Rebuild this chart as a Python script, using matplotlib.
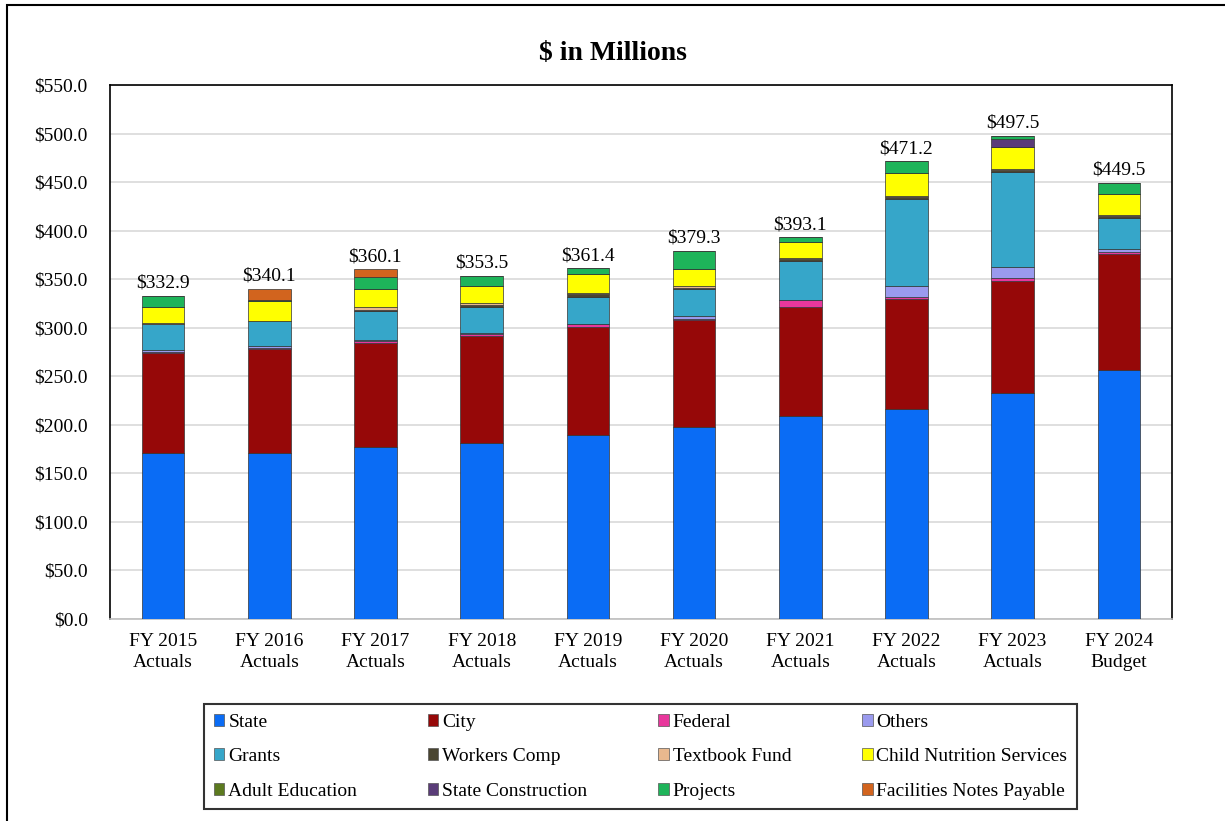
import numpy as np
import matplotlib
matplotlib.use("Agg")
import matplotlib.pyplot as plt
from matplotlib.patches import Rectangle, Patch

plt.rcParams['font.family'] = ['Liberation Serif', 'DejaVu Serif']

# Data ($ in millions)
years = ["FY 2015\nActuals", "FY 2016\nActuals", "FY 2017\nActuals", "FY 2018\nActuals",
         "FY 2019\nActuals", "FY 2020\nActuals", "FY 2021\nActuals", "FY 2022\nActuals",
         "FY 2023\nActuals", "FY 2024\nBudget"]

state = [170.5, 170.5, 177.0, 181.0, 189.5, 197.5, 209.0, 216.0, 232.5, 256.5]
city = [103.5, 107.5, 107.5, 110.5, 111.0, 110.5, 112.5, 113.5, 116.0, 119.5]
federal = [1.0, 1.5, 1.5, 2.5, 3.0, 1.0, 7.0, 2.5, 2.5, 2.5]
others = [2.0, 1.5, 1.5, 0.3, 0.3, 3.0, 0.3, 11.0, 12.0, 3.0]
grants = [26.5, 25.5, 30.0, 27.5, 28.0, 27.5, 40.0, 89.5, 97.0, 31.5]
workers_comp = [0.5, 0.5, 1.0, 1.5, 2.5, 1.5, 1.5, 2.0, 2.5, 2.0]
textbook = [0.5, 0.3, 3.0, 2.0, 1.5, 1.5, 1.0, 1.5, 0.5, 1.5]
child_nutrition = [17.0, 20.0, 18.5, 18.0, 20.0, 18.0, 17.0, 23.0, 23.0, 21.5]
adult_ed = [0, 0, 0, 0, 0, 0, 0, 0, 0, 0]
state_constr = [0, 0, 0, 0, 0, 0, 0, 0, 8.5, 0]
projects = [11.4, 1.2, 12.5, 10.2, 5.6, 18.8, 4.8, 12.2, 3.0, 11.5]
facilities = [0, 11.6, 7.6, 0, 0, 0, 0, 0, 0, 0]
totals = [332.9, 340.1, 360.1, 353.5, 361.4, 379.3, 393.1, 471.2, 497.5, 449.5]

series = [
    ("State", state, '#0A6CF5'),
    ("City", city, '#960808'),
    ("Federal", federal, '#E8379C'),
    ("Others", others, '#9A9AEE'),
    ("Grants", grants, '#36A6C9'),
    ("Workers Comp", workers_comp, '#4A4530'),
    ("Textbook Fund", textbook, '#E8B88E'),
    ("Child Nutrition Services", child_nutrition, '#FFFF00'),
    ("Adult Education", adult_ed, '#5C7A1F'),
    ("State Construction", state_constr, '#5A3C78'),
    ("Projects", projects, '#1EB45A'),
    ("Facilities Notes Payable", facilities, '#D2641E'),
]

fig = plt.figure(figsize=(12.25, 8.21), dpi=100)
ax = fig.add_axes([0.0898, 0.2460, 0.8669, 0.6505])

x = np.arange(len(years))
bottom = np.zeros(len(years))
handles = []
for name, vals, col in series:
    vals = np.array(vals, dtype=float)
    ax.bar(x, vals, 0.4, bottom=bottom, color=col, edgecolor='#333333',
           linewidth=0.5, zorder=3)
    bottom += vals
    handles.append(Patch(facecolor=col, edgecolor='#555555', linewidth=0.5, label=name))

# total labels above the stacks
for xi, t in zip(x, totals):
    ax.annotate(f"${t:.1f}", (xi, t), xytext=(0, 9), textcoords='offset points',
                ha='center', va='center', fontsize=14)

ax.set_xlim(-0.5, len(years) - 0.5)
ax.set_ylim(0, 550)
ax.set_yticks(np.arange(0, 551, 50))
ax.set_yticklabels([f"${v:.1f}" for v in np.arange(0, 551, 50)])
ax.set_xticks(x)
ax.set_xticklabels(years, linespacing=1.35)
ax.tick_params(axis='y', length=0, pad=16, labelsize=14)
ax.tick_params(axis='x', length=0, pad=10, labelsize=14)
ax.grid(axis='y', color='#D9D9D9', linewidth=1.2, zorder=0)
for s in ['left', 'top', 'right']:
    ax.spines[s].set_color('black')
    ax.spines[s].set_linewidth(1.2)
ax.spines['bottom'].set_color('#BFBFBF')
ax.spines['bottom'].set_linewidth(1.2)

fig.text(0.5, 0.935, "$ in Millions", ha='center', va='center',
         fontsize=20, fontweight='bold')

# legend filled row by row like the original (4 columns)
ncol = 4
order = [handles[r * ncol + c] for c in range(ncol) for r in range(3)]
leg = fig.legend(handles=order, loc='upper left', bbox_to_anchor=(0.1665, 0.1425),
                 ncol=ncol, fontsize=14, frameon=True, fancybox=False,
                 handlelength=0.55, handleheight=0.55, handletextpad=0.2,
                 columnspacing=3.63, labelspacing=0.9, borderpad=0.5,
                 borderaxespad=0)
leg.get_frame().set_edgecolor('black')
leg.get_frame().set_linewidth(1.5)

# outer chart border
fig.add_artist(Rectangle((0.0057, -0.01), 1.0, 1.0039, transform=fig.transFigure,
                         fill=False, edgecolor='black', linewidth=1.5))

fig.savefig("out.png", dpi=100)
